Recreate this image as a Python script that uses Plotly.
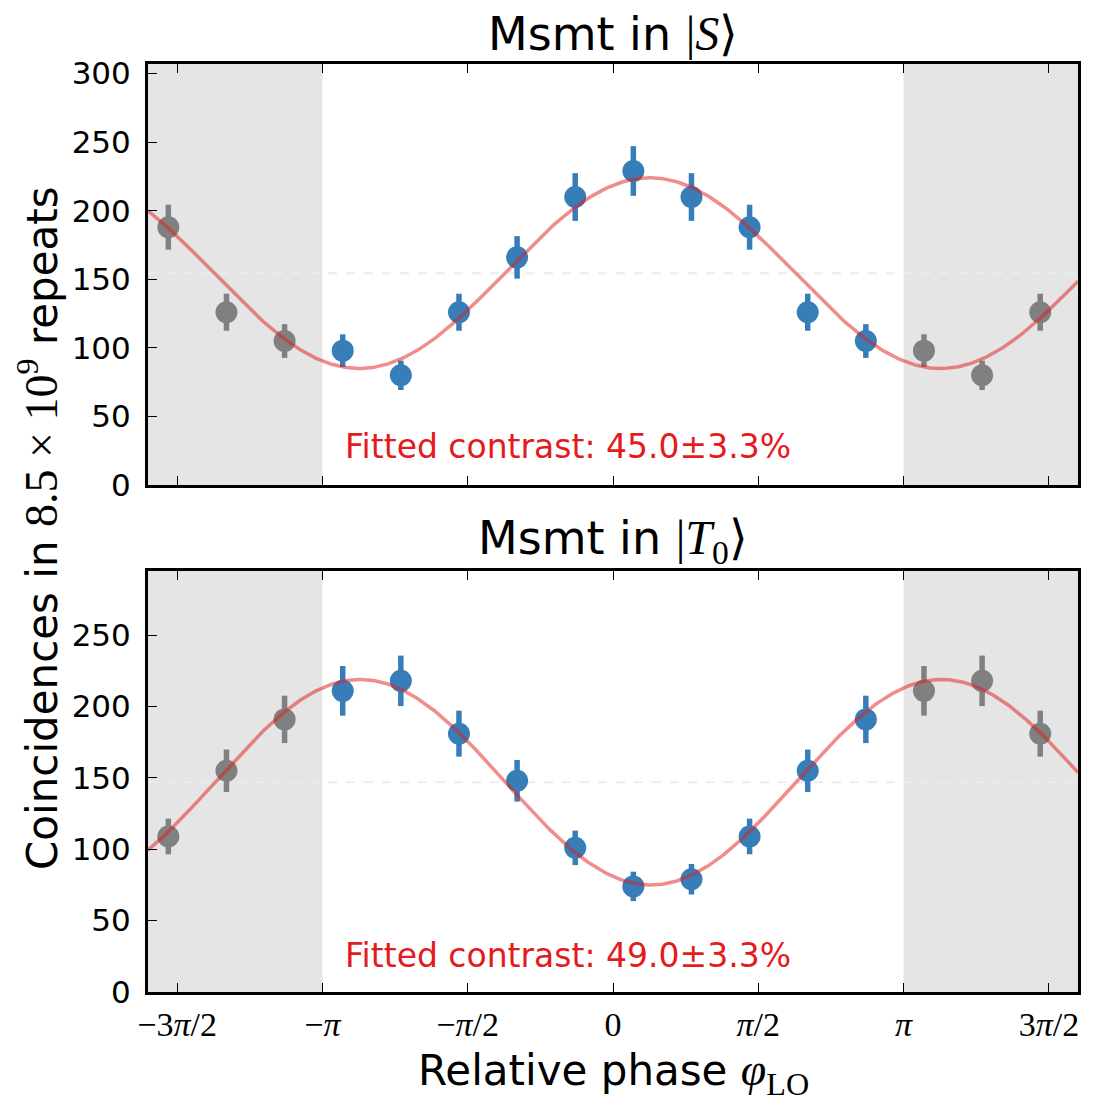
import numpy as np
import plotly.graph_objects as go

PI = np.pi

# ---------------- data ----------------
phase_over_pi = [-0.93, -0.73, -0.53, -0.33, -0.13, 0.07, 0.27, 0.47, 0.67, 0.87]

s_counts = [98, 80, 126, 166, 210, 229, 210, 188, 126, 105]
s_errors = [11.9, 10.7, 13.5, 15.5, 17.4, 18.1, 17.4, 16.4, 13.5, 12.3]

t0_counts = [211, 218, 181, 148, 101, 74, 79, 109, 155, 191]
t0_errors = [17.4, 17.7, 16.1, 14.6, 12.1, 10.3, 10.7, 12.5, 14.9, 16.6]

# fit parameters: offset, amplitude, phase of maximum (in units of pi)
s_fit = dict(offset=154.5, amplitude=69.5, phase=0.127)
t0_fit = dict(offset=147.0, amplitude=72.0, phase=-0.87)

s_text = "Fitted contrast: 45.0±3.3%"
t0_text = "Fitted contrast: 49.0±3.3%"

tick_vals_over_pi = [-1.5, -1.0, -0.5, 0.0, 0.5, 1.0, 1.5]
tick_text = ["−3<i>π</i>/2", "−<i>π</i>", "−<i>π</i>/2", "0", "<i>π</i>/2", "<i>π</i>", "3<i>π</i>/2"]

# ---------------- styles ----------------
BLUE = "#377eb8"
GREY = "#808080"
RED = "#e41a1c"
FIT = "rgba(228,26,28,0.5)"
SHADE = "#e5e5e5"
SANS = "DejaVu Sans"
SERIF = "Liberation Serif"
XMAX = 1.6 * PI

fig = go.Figure()

x_main = np.array(phase_over_pi) * PI
x_left_mask = (x_main > 0.4 * PI)
x_right_mask = (x_main < -0.4 * PI)


def add_panel(counts, errors, fit, text, xa, ya, text_shift):
    counts = np.array(counts)
    errors = np.array(errors)
    # grey copies (shifted by 2 pi)
    gx = np.concatenate([x_main[x_left_mask] - 2 * PI, x_main[x_right_mask] + 2 * PI])
    gy = np.concatenate([counts[x_left_mask], counts[x_right_mask]])
    ge = np.concatenate([errors[x_left_mask], errors[x_right_mask]])
    fig.add_trace(go.Scatter(
        x=gx, y=gy, mode="markers", xaxis=xa, yaxis=ya,
        marker=dict(size=22, color=GREY),
        error_y=dict(type="data", array=ge, thickness=5.5, width=0, color=GREY),
        showlegend=False, hoverinfo="skip"))
    fig.add_trace(go.Scatter(
        x=x_main, y=counts, mode="markers", xaxis=xa, yaxis=ya,
        marker=dict(size=22, color=BLUE),
        error_y=dict(type="data", array=errors, thickness=5.5, width=0, color=BLUE),
        showlegend=False, hoverinfo="skip"))
    xf = np.linspace(-XMAX, XMAX, 600)
    yf = fit["offset"] + fit["amplitude"] * np.cos(xf - fit["phase"] * PI)
    fig.add_trace(go.Scatter(
        x=xf, y=yf, mode="lines", xaxis=xa, yaxis=ya,
        line=dict(color=FIT, width=3.5),
        showlegend=False, hoverinfo="skip"))
    xr = "x" if xa == "x" else "x2"
    yr = "y" if ya == "y" else "y2"
    for x0, x1 in [(-XMAX, -PI), (PI, XMAX)]:
        fig.add_shape(type="rect", xref=xr, yref=yr + " domain", x0=x0, x1=x1, y0=0, y1=1,
                      fillcolor=SHADE, line=dict(width=0), layer="below")
    fig.add_shape(type="line", xref=xr, yref=yr, x0=-XMAX, x1=XMAX,
                  y0=fit["offset"], y1=fit["offset"],
                  line=dict(color="#ececec", width=2, dash="dash"), layer="below")
    fig.add_annotation(xref=xr, yref=yr, x=-0.93 * PI, y=0, yshift=text_shift, xanchor="left",
                       yanchor="bottom", text=text, showarrow=False,
                       font=dict(family=SANS, size=33, color=RED))


add_panel(s_counts, s_errors, s_fit, s_text, "x", "y", 17)
add_panel(t0_counts, t0_errors, t0_fit, t0_text, "x2", "y2", 15)

common_x = dict(range=[-XMAX, XMAX], tickvals=[v * PI for v in tick_vals_over_pi],
                ticktext=tick_text, ticks="inside", ticklen=9, tickwidth=1,
                tickcolor="black", showline=True, linecolor="black", linewidth=3,
                mirror="ticks", showgrid=False, zeroline=False, ticklabelstandoff=0,
                tickfont=dict(family=SERIF, size=34, color="black"))
common_y = dict(ticks="inside", ticklen=9, tickwidth=1, tickcolor="black",
                showline=True, linecolor="black", linewidth=3, mirror=True,
                showgrid=False, zeroline=False, dtick=50, ticklabelstandoff=8,
                tickfont=dict(family=SANS, size=31, color="black"))

fig.update_layout(
    width=1100, height=1105,
    margin=dict(l=148, r=22, t=64, b=113),
    paper_bgcolor="white", plot_bgcolor="white",
    xaxis=dict(**common_x, anchor="y", showticklabels=False, matches="x2"),
    xaxis2=dict(**common_x, anchor="y2"),
    yaxis=dict(**common_y, domain=[0.5463, 1.0], range=[0, 307], anchor="x"),
    yaxis2=dict(**common_y, domain=[0.0, 0.4537], range=[0, 295], anchor="x2"),
)

# titles
fig.add_annotation(xref="paper", yref="paper", x=0.5, y=1.0, yshift=1,
                   xanchor="center", yanchor="bottom", showarrow=False,
                   text=f"Msmt in <span style='font-family:{SERIF};font-size:48px'>|<i>S</i>⟩</span>",
                   font=dict(family=SANS, size=46, color="black"))
fig.add_annotation(xref="paper", yref="paper", x=0.5, y=0.4537, yshift=-2,
                   xanchor="center", yanchor="bottom", showarrow=False,
                   text=f"Msmt in <span style='font-family:{SERIF};font-size:48px'>|<i>T</i><sub>0</sub>⟩</span>",
                   font=dict(family=SANS, size=46, color="black"))
# x title
fig.add_annotation(xref="paper", yref="paper", x=0.5, y=0, yshift=-50,
                   xanchor="center", yanchor="top", showarrow=False,
                   text=f"Relative phase <span style='font-family:{SERIF};font-size:46px'><i>φ</i><sub>LO</sub></span>",
                   font=dict(family=SANS, size=42, color="black"))
# y title
fig.add_annotation(xref="paper", yref="paper", x=0, xshift=-110, y=0.5,
                   xanchor="center", yanchor="middle", textangle=-90, showarrow=False,
                   text=f"Coincidences in <span style='font-family:{SERIF};font-size:46px'>8.5 × 10<sup>9</sup></span> repeats",
                   font=dict(family=SANS, size=42, color="black"))

fig.write_html("out.html")
